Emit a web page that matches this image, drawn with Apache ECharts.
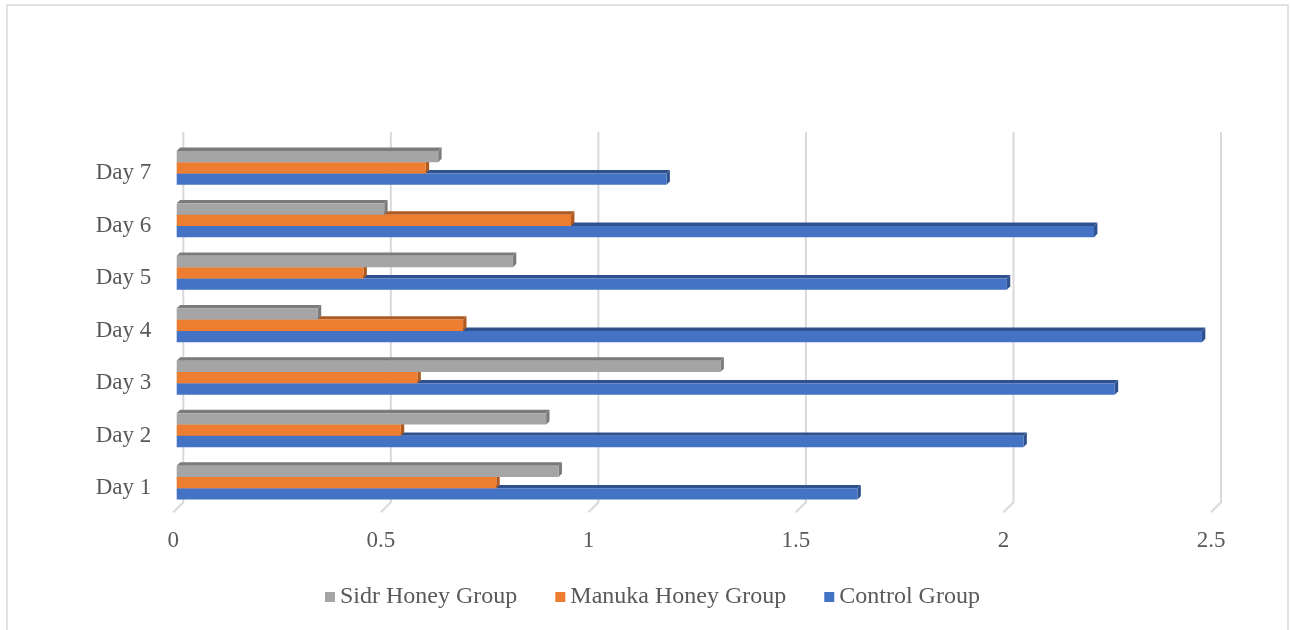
<!DOCTYPE html>
<html>
<head>
<meta charset="utf-8">
<script src="https://cdn.jsdelivr.net/npm/echarts@6/dist/echarts.min.js"></script>
<style>
  html, body { margin: 0; padding: 0; background: #ffffff; }
  #chart { width: 1290px; height: 630px; }
</style>
</head>
<body>
<div id="chart"></div>
<script>
// Wound measurements per day for each treatment group
const categories = ['Day 1', 'Day 2', 'Day 3', 'Day 4', 'Day 5', 'Day 6', 'Day 7'];
const sidrHoney = [0.92, 0.89, 1.31, 0.34, 0.81, 0.50, 0.63];
const manukaHoney = [0.77, 0.54, 0.58, 0.69, 0.45, 0.95, 0.60];
const controlGroup = [1.64, 2.04, 2.26, 2.47, 2.00, 2.21, 1.18];
const xTicks = [0, 0.5, 1, 1.5, 2, 2.5];

const FONT = "'Liberation Serif', 'Times New Roman', serif";
const TEXT = '#595959';
const DEPTH = 3.4;     // oblique depth of each bar
const BAR_H = 11.3;    // thickness of one bar
const WALL = 10;       // offset of the back wall
const GRID_TOP_EXTRA = 13;

// Draws one 3D-looking bar: front face, top face and end face.
function barRenderer(slot, shade) {
  return function (params, api) {
    const cat = api.value(1);
    const val = api.value(0);
    const p0 = api.coord([0, cat]);
    const p1 = api.coord([val, cat]);
    const yc = p1[1] - DEPTH + (slot - 1) * BAR_H;
    const y0 = yc - BAR_H / 2;
    const y1 = yc + BAR_H / 2;
    const x0 = p0[0] + DEPTH;
    const x1 = p1[0] + DEPTH;
    return {
      type: 'group',
      children: [
        { type: 'polygon', shape: { points: [[x0, y0], [x0 + DEPTH, y0 - DEPTH], [x1 + DEPTH, y0 - DEPTH], [x1, y0]] }, style: { fill: shade } },
        { type: 'polygon', shape: { points: [[x1, y0], [x1 + DEPTH, y0 - DEPTH], [x1 + DEPTH, y1 - DEPTH], [x1, y1]] }, style: { fill: shade } },
        { type: 'rect', shape: { x: x0, y: y0, width: x1 - x0, height: BAR_H }, style: { fill: api.visual('color') } }
      ]
    };
  };
}

// Gridlines on the back wall with a short diagonal foot onto the floor.
function gridRenderer(params, api) {
  const x = api.coord([api.value(0), 0])[0];
  const cs = params.coordSys;
  const bottom = cs.y + cs.height;
  return {
    type: 'polyline',
    shape: { points: [[x + WALL, cs.y - GRID_TOP_EXTRA], [x + WALL, bottom - WALL], [x, bottom]] },
    style: { stroke: '#d9d9d9', lineWidth: 2, fill: null }
  };
}

function toData(values) {
  return values.map((v, i) => [v, i]);
}

const chart = echarts.init(document.getElementById('chart'), null, { renderer: 'canvas' });
chart.setOption({
  animation: false,
  backgroundColor: '#ffffff',
  graphic: [{
    type: 'rect',
    shape: { x: 7, y: 5, width: 1281, height: 700 },
    style: { fill: null, stroke: '#d9d9d9', lineWidth: 1.5 },
    silent: true
  }],
  grid: { left: 173.3, right: 79, top: 145, bottom: 117.7 },
  xAxis: {
    type: 'value',
    min: 0, max: 2.5, interval: 0.5,
    axisLine: { show: false },
    axisTick: { show: false },
    splitLine: { show: false },
    axisLabel: { margin: 17, fontSize: 23, fontFamily: FONT, color: TEXT }
  },
  yAxis: {
    type: 'category',
    data: categories,
    axisLine: { show: false },
    axisTick: { show: false },
    splitLine: { show: false },
    axisLabel: {
      margin: 22,
      formatter: '{d|{value}}',
      rich: { d: { fontSize: 23, fontFamily: FONT, color: TEXT, padding: [4, 0, 0, 0] } }
    }
  },
  legend: {
    data: ['Sidr Honey Group', 'Manuka Honey Group', 'Control Group'],
    left: 320, top: 580,
    icon: 'rect', itemWidth: 10, itemHeight: 10, itemGap: 38,
    textStyle: { fontSize: 24, fontFamily: FONT, color: TEXT }
  },
  series: [
    {
      type: 'custom', name: 'gridlines', silent: true, z: 1,
      data: xTicks.map(v => [v, 0]),
      renderItem: gridRenderer
    },
    {
      type: 'custom', name: 'Control Group', z: 2,
      itemStyle: { color: '#4472C4' },
      data: toData(controlGroup),
      renderItem: barRenderer(2, '#2F528F')
    },
    {
      type: 'custom', name: 'Manuka Honey Group', z: 3,
      itemStyle: { color: '#ED7D31' },
      data: toData(manukaHoney),
      renderItem: barRenderer(1, '#AE5A21')
    },
    {
      type: 'custom', name: 'Sidr Honey Group', z: 4,
      itemStyle: { color: '#A5A5A5' },
      data: toData(sidrHoney),
      renderItem: barRenderer(0, '#7B7B7B')
    }
  ]
});
</script>
</body>
</html>
